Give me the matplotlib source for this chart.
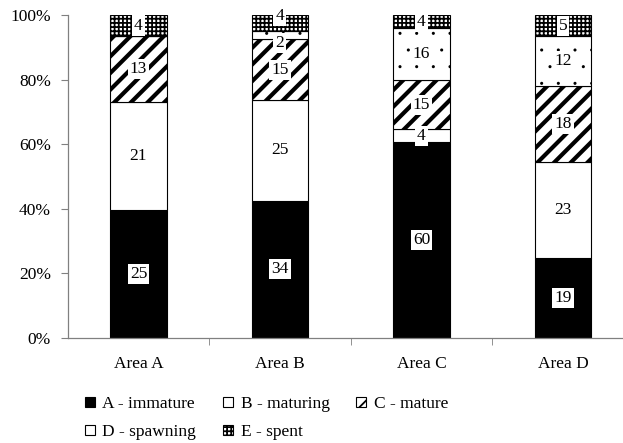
import matplotlib.pyplot as plt
import matplotlib.hatch
from matplotlib.patches import Patch
from matplotlib.ticker import FuncFormatter

plt.rcParams['font.family'] = ['Liberation Serif', 'DejaVu Serif']
plt.rcParams['font.size'] = 12.5

# smaller dots for the "spawning" fill
matplotlib.hatch.SmallFilledCircles.size = 0.05

areas = ["Area A", "Area B", "Area C", "Area D"]
stages = ["A - immature", "B - maturing", "C - mature", "D - spawning", "E - spent"]

# fish counts per stage, per area
immature = [25, 34, 60, 19]
maturing = [21, 25, 4, 23]
mature = [13, 15, 15, 18]
spawning = [0, 2, 16, 12]
spent = [4, 4, 4, 5]

counts = [immature, maturing, mature, spawning, spent]
colors = ["black", "white", "white", "white", "white"]
hatches = [None, None, "//", ".", "++++"]
hatch_lw = [1.0, 1.0, 3.0, 1.0, 1.3]

totals = [sum(c[i] for c in counts) for i in range(len(areas))]
xpos = list(range(len(areas)))

fig = plt.figure(figsize=(6.23, 4.43), dpi=100)
ax = fig.add_axes([67.7 / 623, 0.2377, 566 / 623, 0.7278])

bottom = [0.0] * len(areas)
handles = []
labels = [[] for _ in areas]  # (y, text) per bar
for series, name, col, hat, lw in zip(counts, stages, colors, hatches, hatch_lw):
    plt.rcParams['hatch.linewidth'] = lw
    frac = [v / t for v, t in zip(series, totals)]
    ax.bar(xpos, frac, 0.4, bottom=bottom, color=col, edgecolor="black",
           linewidth=0.8, hatch=hat)
    for i, (v, f, b) in enumerate(zip(series, frac, bottom)):
        if v > 0:
            labels[i].append([b + f / 2, str(v)])
    handles.append(Patch(facecolor=col, edgecolor="black", linewidth=0.8, hatch=hat, label=name))
    bottom = [b + f for b, f in zip(bottom, frac)]

# push apart labels that sit too close, like Excel does
min_gap = 0.085
for i, labs in enumerate(labels):
    for j in range(1, len(labs)):
        lo, hi = labs[j - 1], labs[j]
        if hi[0] - lo[0] < min_gap:
            mid = (hi[0] + lo[0]) / 2
            lo[0] = mid - min_gap / 2
            hi[0] = mid + min_gap / 2
    for y, s in labs:
        ax.text(xpos[i], y, s, ha="center", va="center",
                bbox=dict(facecolor="white", edgecolor="none", pad=1.5))

ax.set_xlim(-0.5, 3.5)
ax.set_ylim(0, 1)
ax.set_yticks([0, 0.2, 0.4, 0.6, 0.8, 1.0])
ax.yaxis.set_major_formatter(FuncFormatter(lambda v, p: f"{v * 100:.0f}%"))
ax.set_xticks(xpos)
ax.set_xticklabels(areas)
ax.set_xticks([0.5, 1.5, 2.5], minor=True)

for s in ["top", "right"]:
    ax.spines[s].set_visible(False)
for s in ["left", "bottom"]:
    ax.spines[s].set_color("#808080")
    ax.spines[s].set_linewidth(0.9)

ax.tick_params(axis="y", length=5, color="#808080", pad=7)
ax.tick_params(axis="x", which="major", length=0, pad=13)
ax.tick_params(axis="x", which="minor", length=5, color="#808080")

# row order: A B C / D E
order = [0, 3, 1, 4, 2]
fig.legend([handles[i] for i in order], [stages[i] for i in order],
           ncol=3, loc="upper left", bbox_to_anchor=(85 / 623, 1 - 396 / 443),
           frameon=False, borderpad=0, borderaxespad=0,
           handlelength=0.55, handleheight=0.55, handletextpad=0.45,
           columnspacing=1.55, labelspacing=0.7)

fig.savefig("out.png", dpi=100)
